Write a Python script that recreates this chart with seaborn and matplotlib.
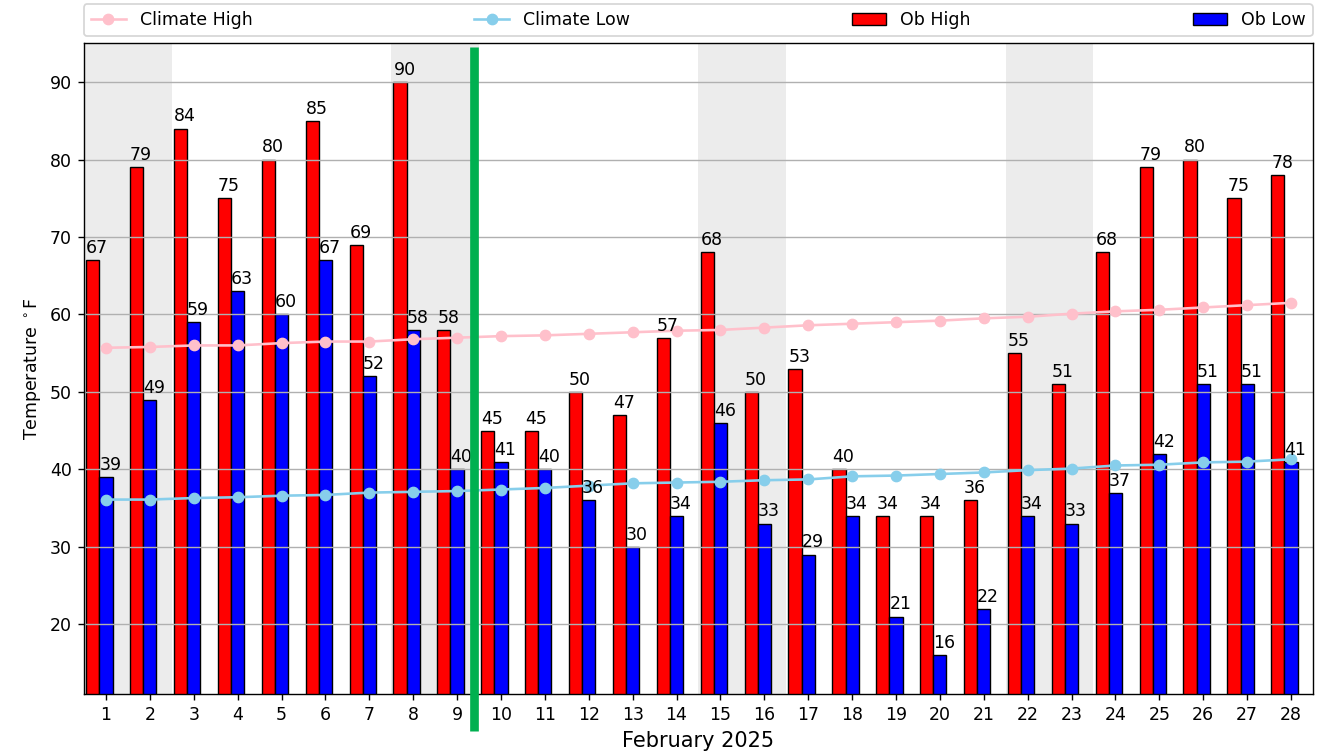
"""
Daily observed high/low temperatures vs climatology, February 2025.
"""

import matplotlib
matplotlib.use('Agg')
import matplotlib.pyplot as plt
import seaborn as sns
import numpy as np

# Datos
days = list(range(1, 29))
ob_high = [67, 79, 84, 75, 80, 85, 69, 90, 58, 45, 45, 50, 47, 57,
           68, 50, 53, 40, 34, 34, 36, 55, 51, 68, 79, 80, 75, 78]
ob_low = [39, 49, 59, 63, 60, 67, 52, 58, 40, 41, 40, 36, 30, 34,
          46, 33, 29, 34, 21, 16, 22, 34, 33, 37, 42, 51, 51, 41]
climate_high = [55.7, 55.8, 56.0, 56.0, 56.3, 56.5, 56.5, 56.8, 57.0, 57.2,
                57.3, 57.5, 57.7, 57.9, 58.0, 58.3, 58.6, 58.8, 59.0, 59.2,
                59.5, 59.7, 60.1, 60.4, 60.6, 60.9, 61.2, 61.5]
climate_low = [36.1, 36.1, 36.3, 36.4, 36.6, 36.7, 37.0, 37.1, 37.2, 37.4,
               37.6, 37.9, 38.2, 38.3, 38.4, 38.6, 38.7, 39.1, 39.2, 39.4,
               39.6, 39.9, 40.1, 40.5, 40.6, 40.9, 41.0, 41.3]
weekend_starts = [1, 8, 15, 22]   # sabados
now_day = 9.375                   # marcador de "ahora"

DPI = 125
fig, ax = plt.subplots(figsize=(1321 / DPI, 751 / DPI), dpi=DPI)
fig.subplots_adjust(left=0.0636, right=0.9939, top=0.9423, bottom=0.0759)

x = np.array(days)
bar_w = 0.3

# Fines de semana
for d in weekend_starts:
    ax.axvspan(d - 0.5, d + 1.5, color='#ececec', zorder=0, lw=0)

# Climatologia
sns.lineplot(x=days, y=climate_high, ax=ax, color='pink', marker='o',
             markersize=6, markeredgecolor='pink', linewidth=1.5,
             label='Climate High', zorder=3)
sns.lineplot(x=days, y=climate_low, ax=ax, color='skyblue', marker='o',
             markersize=6, markeredgecolor='skyblue', linewidth=1.5,
             label='Climate Low', zorder=3)

# Observaciones
ax.bar(x - 0.45, ob_high, width=bar_w, align='edge', color='red',
       edgecolor='black', linewidth=0.8, label='Ob High', zorder=1)
ax.bar(x - 0.15, ob_low, width=bar_w, align='edge', color='blue',
       edgecolor='black', linewidth=0.8, label='Ob Low', zorder=1)

for xi, hi, lo in zip(x, ob_high, ob_low):
    ax.text(xi - 0.45, hi + 0.4, f'{hi}', ha='left', va='bottom', zorder=4)
    ax.text(xi - 0.15, lo + 0.4, f'{lo}', ha='left', va='bottom', zorder=4)

ax.axvline(now_day, ymin=-0.0565, ymax=0.995, color='#00b050',
           linewidth=5, solid_capstyle='butt', clip_on=False, zorder=5)

ax.set_xlim(0.5, 28.5)
ax.set_ylim(min(ob_low) - 5, max(ob_high) + 5)
ax.set_xticks(days)
ax.set_xticklabels([str(d) for d in days])
ax.set_yticks(range(20, 91, 10))
ax.yaxis.grid(True, color='#b0b0b0', linewidth=0.8)

ax.set_xlabel('February 2025', fontsize=12)
ax.set_ylabel(r'Temperature $^\circ$F')

ax.legend(bbox_to_anchor=(0., 1.011, 1., 0.1), loc='lower left', ncol=4,
          mode='expand', borderaxespad=0.)

plt.savefig('out.png', dpi=DPI)
